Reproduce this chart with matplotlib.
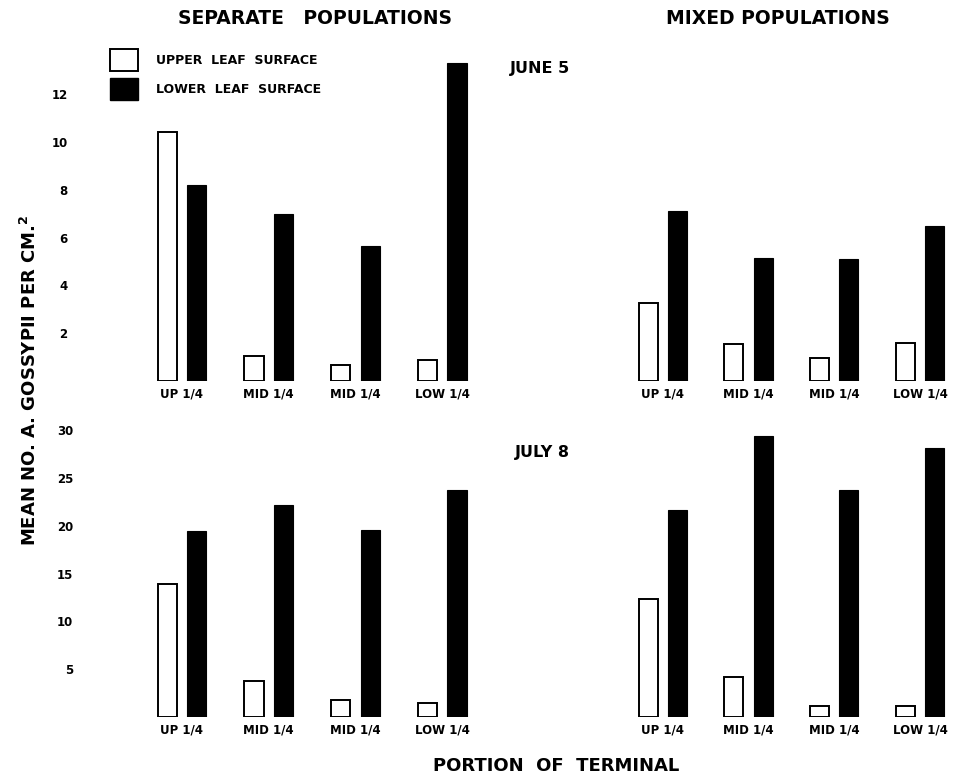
import matplotlib.pyplot as plt
import numpy as np
from matplotlib.patches import Patch

# --- DATA ---
portions = ["UP 1/4", "MID 1/4", "MID 1/4", "LOW 1/4"]

june_sep_upper = [10.4, 1.05, 0.67, 0.88]
june_sep_lower = [8.2, 7.0, 5.65, 13.3]
june_mix_upper = [3.25, 1.55, 0.95, 1.6]
june_mix_lower = [7.1, 5.15, 5.1, 6.5]

july_sep_upper = [13.9, 3.8, 1.8, 1.5]
july_sep_lower = [19.5, 22.2, 19.6, 23.7]
july_mix_upper = [12.3, 4.2, 1.2, 1.2]
july_mix_lower = [21.7, 29.4, 23.8, 28.1]

june_ticks = [2, 4, 6, 8, 10, 12]
july_ticks = [5, 10, 15, 20, 25, 30]

plt.rcParams['font.family'] = ['DejaVu Sans']


def draw_panel(ax, upper, lower, ymax, yticks=None, ypad=50):
    x = np.arange(len(portions))
    ax.bar(x - 0.17, upper, 0.22, color='white', edgecolor='black', linewidth=1.4)
    ax.bar(x + 0.17, lower, 0.22, color='black', edgecolor='black', linewidth=0.8)
    ax.set_xlim(-0.5, 3.5)
    ax.set_ylim(0, ymax)
    ax.set_xticks(x)
    ax.set_xticklabels(portions, fontsize=8.5, fontweight='bold')
    ax.tick_params(axis='x', length=0, pad=5)
    for s in ax.spines.values():
        s.set_visible(False)
    if yticks:
        ax.set_yticks(yticks)
        ax.set_yticklabels([str(t) for t in yticks], fontsize=8.5, fontweight='bold')
        ax.tick_params(axis='y', length=0, pad=ypad)
    else:
        ax.set_yticks([])
    ax.patch.set_alpha(0)


fig = plt.figure(figsize=(9.61, 7.74), dpi=100)

top_b, top_h = 0.5078, 0.4323
bot_b, bot_h = 0.0736, 0.3829
sep_l, sep_w = 0.1442, 0.3611
mix_l, mix_w = 0.645, 0.357

ax1 = fig.add_axes([sep_l, top_b, sep_w, top_h])
ax2 = fig.add_axes([mix_l, top_b, mix_w, top_h])
ax3 = fig.add_axes([sep_l, bot_b, sep_w, bot_h])
ax4 = fig.add_axes([mix_l, bot_b, mix_w, bot_h])

draw_panel(ax1, june_sep_upper, june_sep_lower, 14, june_ticks, ypad=51)
draw_panel(ax2, june_mix_upper, june_mix_lower, 14)
draw_panel(ax3, july_sep_upper, july_sep_lower, 31, july_ticks, ypad=47)
draw_panel(ax4, july_mix_upper, july_mix_lower, 31)

# --- TEXT ---
fig.text(315 / 961, 1 - 18 / 774, "SEPARATE   POPULATIONS", ha='center', va='center',
         fontsize=13.5, fontweight='bold')
fig.text(778 / 961, 1 - 18 / 774, "MIXED POPULATIONS", ha='center', va='center',
         fontsize=13.5, fontweight='bold')
fig.text(510 / 961, 1 - 68 / 774, "JUNE 5", ha='left', va='center', fontsize=11.5, fontweight='bold')
fig.text(515 / 961, 1 - 452 / 774, "JULY 8", ha='left', va='center', fontsize=11.5, fontweight='bold')
fig.text(30 / 961, 1 - 380 / 774, "MEAN NO. A. GOSSYPII PER CM.$^\\mathbf{2}$", rotation=90,
         ha='center', va='center', fontsize=13, fontweight='bold')
fig.text(556 / 961, 1 - 766 / 774, "PORTION  OF  TERMINAL", ha='center', va='center',
         fontsize=13, fontweight='bold')

handles = [Patch(facecolor='white', edgecolor='black', linewidth=1.4),
           Patch(facecolor='black', edgecolor='black')]
fig.legend(handles, ["UPPER  LEAF  SURFACE", "LOWER  LEAF  SURFACE"],
           loc='upper left', bbox_to_anchor=(0.1145, 0.937), borderaxespad=0, borderpad=0,
           frameon=False, prop={'size': 9, 'weight': 'bold'},
           handlelength=2.2, handleheight=2.3, handletextpad=1.5, labelspacing=0.6)

fig.savefig("out.png", dpi=100)
